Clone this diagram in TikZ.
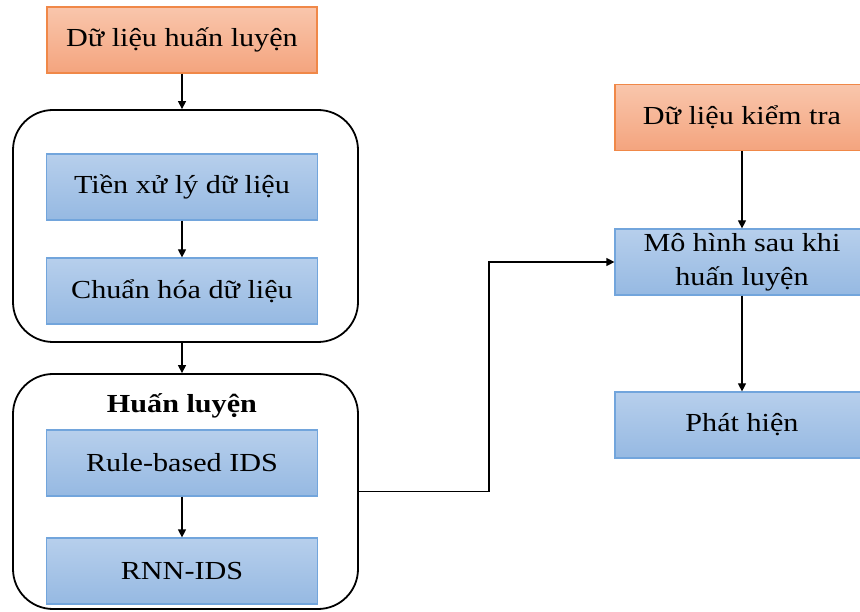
\documentclass[tikz,border=0pt]{standalone}
\usepackage{fontspec}
\setmainfont[FakeStretch=1.16]{Liberation Serif}
\usetikzlibrary{arrows.meta}

\definecolor{ortop}{HTML}{F9C6AC}
\definecolor{orbot}{HTML}{F4A47E}
\definecolor{orline}{HTML}{F08848}
\definecolor{bltop}{HTML}{B7CFEC}
\definecolor{blbot}{HTML}{96B9E2}
\definecolor{blline}{HTML}{72A5DC}

\begin{document}
\begin{tikzpicture}[x=1pt, y=-1pt, node distance={104pt},
        data/.style = {draw=orline, line width=1.2pt, top color=ortop, bottom color=orbot, minimum width=270pt, minimum height=66pt, font=\fontsize{26}{34}\selectfont},
        proc/.style = {draw=blline, line width=1.2pt, top color=bltop, bottom color=blbot, minimum width=271pt, minimum height=66pt, font=\fontsize{26}{34}\selectfont},
        group/.style = {draw, rounded corners=40pt, line width=1.8pt},
        arr/.style = {-{Triangle[length=8pt,width=8pt]}, line width=1.2pt}]
        \useasboundingbox (0,0) rectangle (860,612);
        %% Training side
        \node[data] (trdata) at (182,40) {Dữ liệu huấn luyện};
        \node[group, minimum width=345pt, minimum height=232pt] (prep) at (185.5,226) {};
        \node[proc] (clean) at (182,187) {Tiền xử lý dữ liệu};
        \node[proc] (norm) [below of=clean] {Chuẩn hóa dữ liệu};
        \node[group, minimum width=345pt, minimum height=235pt] (train) at (185.5,491.5) {};
        \node[font=\fontsize{26}{34}\selectfont\bfseries] (trlabel) at (182,406) {Huấn luyện};
        \node[proc] (rule) at (182,463) {Rule-based IDS};
        \node[proc, node distance={108pt}] (rnn) [below of=rule] {RNN-IDS};
        %% Testing side
        \node[data, minimum width=254pt] (tsdata) at (742,117.5) {Dữ liệu kiểm tra};
        \node[proc, minimum width=254pt, align=center, inner sep=1pt] (model) at (742,262) {Mô hình sau khi\\huấn luyện};
        \node[proc, minimum width=254pt] (detect) at (742,425) {Phát hiện};
        %% Arrows
        \draw[arr] (trdata.south) -- (trdata.south |- prep.north);
        \draw[arr] (clean) -- (norm);
        \draw[arr] (prep.south -| norm.south) -- (train.north -| norm.south);
        \draw[arr] (rule) -- (rnn);
        \draw[arr] (train.east) -- ++(130,0) |- (model.west);
        \draw[arr] (tsdata) -- (model);
        \draw[arr] (model) -- (detect);
    \end{tikzpicture}
\end{document}
